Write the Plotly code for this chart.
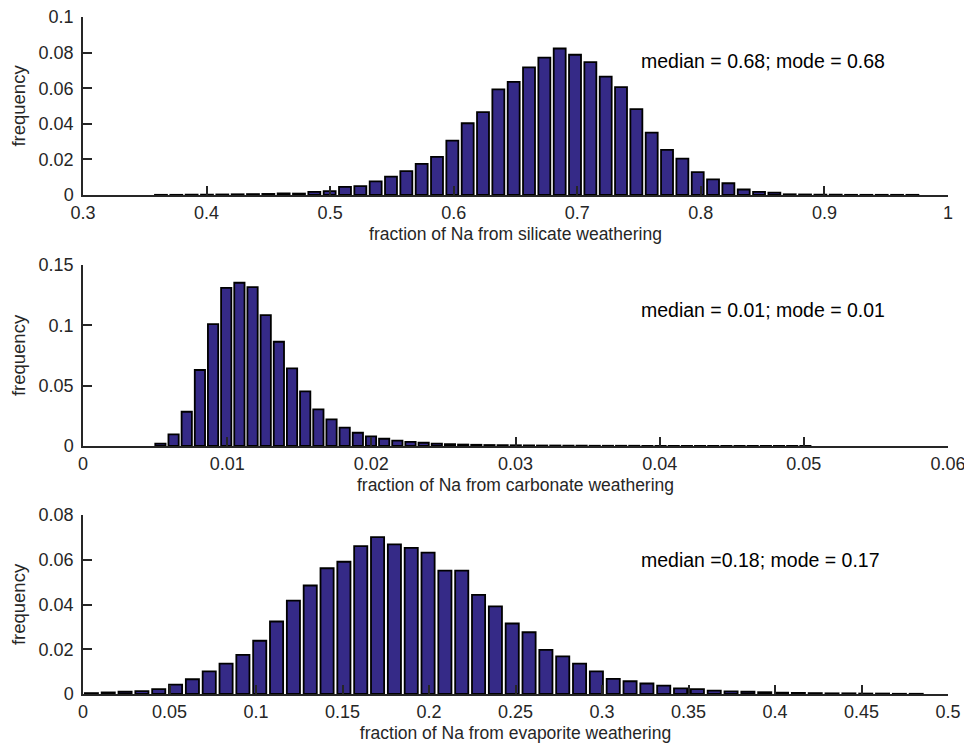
import numpy as np
import plotly.graph_objects as go

# ---------------- data ----------------
# Panel 1: fraction of Na from silicate weathering (50 bins)
silicate_first_center = 0.3631
silicate_bin_width = 0.01241
silicate_freq = [
    0.0001, 0.0001, 0.0002, 0.0002, 0.0003, 0.0004, 0.0005, 0.0006, 0.0009, 0.0008,
    0.0017, 0.0022, 0.0046, 0.0050, 0.0077, 0.0103, 0.0134, 0.0175, 0.0214, 0.0306,
    0.0403, 0.0466, 0.0593, 0.0635, 0.0717, 0.0772, 0.0823, 0.0788, 0.0746, 0.0665,
    0.0606, 0.0483, 0.0350, 0.0254, 0.0204, 0.0129, 0.0088, 0.0066, 0.0031, 0.0017,
    0.0013, 0.0004, 0.0003, 0.0002, 0.0002, 0.0001, 0.0001, 0.0001, 0.0001, 0.0001,
]

# Panel 2: fraction of Na from carbonate weathering (50 bins)
carbonate_first_center = 0.00537
carbonate_bin_width = 0.000913
carbonate_freq = [
    0.0020, 0.0097, 0.0284, 0.0630, 0.1010, 0.1310, 0.1353, 0.1317, 0.1085, 0.0864,
    0.0644, 0.0453, 0.0304, 0.0221, 0.0152, 0.0110, 0.0080, 0.0060, 0.0045, 0.0035,
    0.0027, 0.0020, 0.0015, 0.0012, 0.0010, 0.0008, 0.0007, 0.0006, 0.0005, 0.0004,
    0.0004, 0.0003, 0.0003, 0.0002, 0.0002, 0.0002, 0.0002, 0.0001, 0.0001, 0.0001,
    0.0001, 0.0001, 0.0001, 0.0001, 0.0001, 0.0001, 0.0001, 0.0001, 0.0001, 0.0001,
]

# Panel 3: fraction of Na from evaporite weathering (50 bins)
evaporite_first_center = 0.00486
evaporite_bin_width = 0.00973
evaporite_freq = [
    0.0004, 0.0007, 0.0010, 0.0013, 0.0022, 0.0042, 0.0066, 0.0101, 0.0136, 0.0175,
    0.0238, 0.0324, 0.0417, 0.0485, 0.0562, 0.0591, 0.0661, 0.0701, 0.0669, 0.0653,
    0.0632, 0.0551, 0.0551, 0.0443, 0.0392, 0.0315, 0.0276, 0.0197, 0.0168, 0.0136,
    0.0101, 0.0068, 0.0057, 0.0047, 0.0037, 0.0025, 0.0022, 0.0015, 0.0012, 0.0010,
    0.0008, 0.0006, 0.0005, 0.0004, 0.0003, 0.0003, 0.0002, 0.0002, 0.0001, 0.0001,
]

x_titles = [
    "fraction of Na from silicate weathering",
    "fraction of Na from carbonate weathering",
    "fraction of Na from evaporite weathering",
]
annotations_text = [
    "median = 0.68; mode = 0.68",
    "median = 0.01; mode = 0.01",
    "median =0.18; mode = 0.17",
]
x_ranges = [[0.3, 1.0], [0.0, 0.06], [0.0, 0.5]]
x_tickvals = [
    [0.3, 0.4, 0.5, 0.6, 0.7, 0.8, 0.9, 1.0],
    [0, 0.01, 0.02, 0.03, 0.04, 0.05, 0.06],
    [0, 0.05, 0.1, 0.15, 0.2, 0.25, 0.3, 0.35, 0.4, 0.45, 0.5],
]
x_ticktext = [
    ["0.3", "0.4", "0.5", "0.6", "0.7", "0.8", "0.9", "1"],
    ["0", "0.01", "0.02", "0.03", "0.04", "0.05", "0.06"],
    ["0", "0.05", "0.1", "0.15", "0.2", "0.25", "0.3", "0.35", "0.4", "0.45", "0.5"],
]
y_ranges = [[0, 0.1], [0, 0.15], [0, 0.08]]
y_tickvals = [
    [0, 0.02, 0.04, 0.06, 0.08, 0.1],
    [0, 0.05, 0.1, 0.15],
    [0, 0.02, 0.04, 0.06, 0.08],
]
y_ticktext = [
    ["0", "0.02", "0.04", "0.06", "0.08", "0.1"],
    ["0", "0.05", "0.1", "0.15"],
    ["0", "0.02", "0.04", "0.06", "0.08"],
]

# ---------------- figure ----------------
# The page body has an 8px margin, so the figure is 8px smaller and all
# page-pixel positions are shifted by 8px.
PAGE_OFF = 8
W, H = 972 - PAGE_OFF, 753 - PAGE_OFF
M_L, M_R, M_T, M_B = 83 - PAGE_OFF, 24, 17 - PAGE_OFF, 59
plot_h = H - M_T - M_B
# page-pixel rows (top, bottom) of each panel
panel_px = [(17, 195), (265, 446), (515, 694)]
domains = []
for (t, b) in panel_px:
    t -= PAGE_OFF
    b -= PAGE_OFF
    d0 = (H - M_B - b) / plot_h
    d1 = (H - M_B - t) / plot_h
    domains.append([max(0.0, d0), min(1.0, d1)])

FONT = "Liberation Sans, Arial, Helvetica, sans-serif"
BAR_FILL = "rgb(53,42,135)"
AX_COLOR = "#262626"

series = [
    (silicate_first_center, silicate_bin_width, silicate_freq),
    (carbonate_first_center, carbonate_bin_width, carbonate_freq),
    (evaporite_first_center, evaporite_bin_width, evaporite_freq),
]

fig = go.Figure()
for i, (c0, bw, freq) in enumerate(series):
    centers = c0 + bw * np.arange(len(freq))
    suffix = "" if i == 0 else str(i + 1)
    fig.add_trace(go.Bar(
        x=centers, y=freq, width=bw * 0.78,
        marker=dict(color=BAR_FILL, line=dict(color="black", width=1.8)),
        xaxis="x" + suffix, yaxis="y" + suffix, showlegend=False,
        hoverinfo="x+y",
    ))

layout = dict(
    width=W, height=H,
    margin=dict(l=M_L, r=M_R, t=M_T, b=M_B),
    paper_bgcolor="white", plot_bgcolor="white",
    font=dict(family=FONT, size=18, color=AX_COLOR),
    template="none",
    annotations=[],
)
for i in range(3):
    suffix = "" if i == 0 else str(i + 1)
    layout["xaxis" + suffix] = dict(
        domain=[0, 1], anchor="y" + suffix,
        range=x_ranges[i], tickmode="array",
        tickvals=x_tickvals[i], ticktext=x_ticktext[i],
        showline=True, linecolor=AX_COLOR, linewidth=1.5,
        ticks="inside", ticklen=9, tickwidth=1.5, tickcolor=AX_COLOR,
        showgrid=False, zeroline=False, mirror=False,
        tickfont=dict(size=18, color=AX_COLOR),
        ticklabelstandoff=1, ticklabeloverflow="allow",
        title=dict(text=x_titles[i], font=dict(size=17.5, color=AX_COLOR), standoff=5),
        automargin=False,
    )
    layout["yaxis" + suffix] = dict(
        domain=domains[i], anchor="x" + suffix,
        range=y_ranges[i], tickmode="array",
        tickvals=y_tickvals[i], ticktext=y_ticktext[i],
        showline=True, linecolor=AX_COLOR, linewidth=1.5,
        ticks="inside", ticklen=9, tickwidth=1.5, tickcolor=AX_COLOR,
        showgrid=False, zeroline=False, mirror=False,
        tickfont=dict(size=18, color=AX_COLOR),
        ticklabelstandoff=4, ticklabeloverflow="allow",
        title=dict(text="frequency", font=dict(size=18.5, color=AX_COLOR), standoff=8),
        automargin=False,
    )
    layout["annotations"].append(dict(
        text=annotations_text[i],
        xref="x" + suffix + " domain", yref="y" + suffix + " domain",
        x=0.643, y=0.75, xanchor="left", yanchor="middle",
        showarrow=False, font=dict(family=FONT, size=19.5, color="black"),
    ))

fig.update_layout(**layout)
fig.write_html("out.html")
